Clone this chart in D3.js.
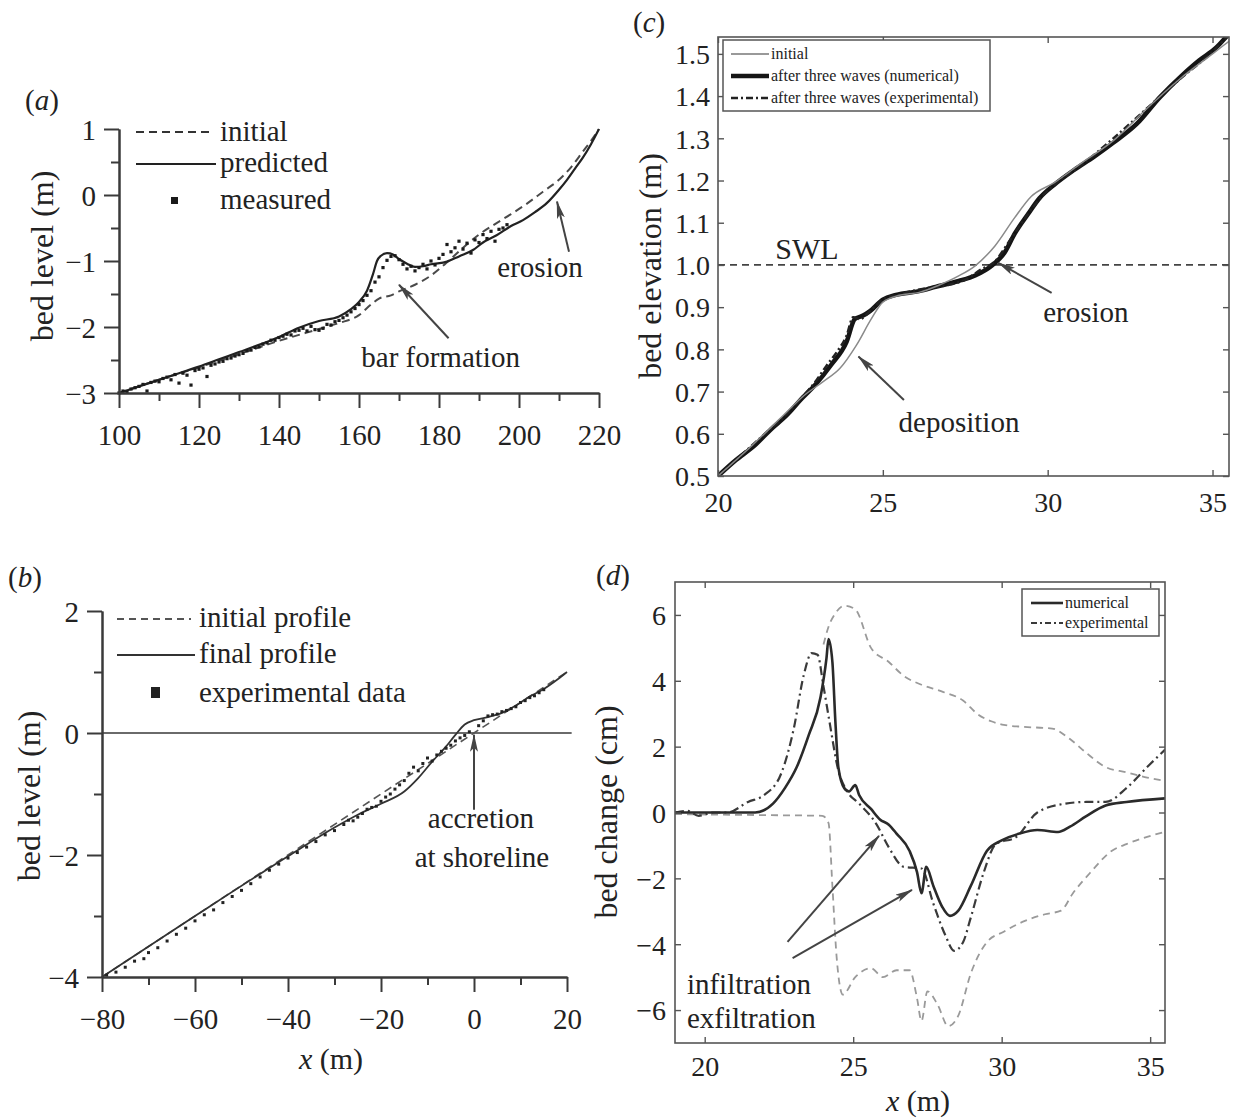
<!DOCTYPE html>
<html><head><meta charset="utf-8">
<script src="https://cdn.jsdelivr.net/npm/d3@7"></script>
<style>
body{margin:0;background:#fff}
text{font-family:"Liberation Serif","Times New Roman",serif;fill:#222}
</style></head><body>
<script>
// ---------------- Panel (a) data ----------------
const aXTicks = [100,120,140,160,180,200,220];
const aXMinor = [110,130,150,170,190,210];
const aYTicks = [1,0,-1,-2,-3];
const aYMinor = [0.5,-0.5,-1.5,-2.5];
const aInitial = [[100,-3.0],[110,-2.8],[120,-2.61],[130,-2.41],[140,-2.21],[150,-2.03],[155,-1.94],[160,-1.82],[163,-1.66],[165,-1.57],[168,-1.52],[170,-1.46],[174,-1.36],[178,-1.22],[182,-1.02],[186,-0.8],[190,-0.6],[194,-0.44],[198,-0.29],[202,-0.13],[206,0.05],[210,0.23],[213,0.42],[216,0.66],[218,0.82],[220,1.0]];
const aPredicted = [[100,-3.0],[105,-2.9],[110,-2.8],[115,-2.7],[120,-2.6],[125,-2.49],[130,-2.38],[135,-2.27],[140,-2.15],[145,-2.01],[150,-1.91],[155,-1.84],[158,-1.73],[160,-1.62],[162,-1.45],[163.5,-1.2],[164.5,-1.0],[165.5,-0.92],[167,-0.88],[168.5,-0.9],[170,-0.97],[172,-1.04],[174,-1.09],[176,-1.08],[178,-1.05],[182,-1.01],[185,-0.93],[188.6,-0.83],[191,-0.72],[194.4,-0.61],[198,-0.47],[201,-0.38],[204,-0.26],[207,-0.12],[210,0.08],[212,0.23],[214,0.4],[216,0.57],[218,0.77],[220,1.0]];
const aMeasured = [[100,-3.0],[101,-2.97],[102,-2.99],[103,-2.94],[104,-2.92],[105,-2.9],[106,-2.87],[107,-2.97],[108,-2.84],[109,-2.82],[110,-2.83],[111,-2.78],[112,-2.76],[113,-2.8],[114,-2.72],[115,-2.85],[116,-2.7],[117,-2.73],[118,-2.88],[119,-2.66],[120,-2.64],[121,-2.62],[122,-2.75],[123,-2.58],[124,-2.56],[125,-2.53],[126,-2.52],[127,-2.48],[128,-2.47],[129,-2.44],[130,-2.42],[131,-2.4],[132,-2.36],[133,-2.35],[134,-2.31],[135,-2.3],[136,-2.26],[137,-2.24],[138,-2.2],[139,-2.2],[140,-2.16],[141,-2.14],[142,-2.11],[143,-2.12],[144,-2.06],[145,-2.05],[146,-2.02],[147,-2.06],[148,-1.99],[149,-2.04],[150,-2.05],[151,-2.02],[152,-1.96],[153,-1.97],[154,-1.92],[155,-1.9],[156,-1.86],[157,-1.82],[158,-1.77],[159,-1.72],[160,-1.66],[161,-1.6],[162,-1.52],[163,-1.45],[164,-1.32],[165,-1.24],[166,-1.1],[167,-0.99],[168,-0.93],[169,-0.92],[170,-0.98],[171,-1.05],[172,-1.12],[173,-1.08],[174,-1.15],[175,-1.1],[176,-1.05],[177,-1.12],[178,-1.0],[179,-1.06],[180,-0.96],[181,-0.9],[182,-0.75],[183,-0.86],[184,-0.8],[185,-0.7],[186,-0.82],[187,-0.73],[188,-0.88],[189,-0.68],[190,-0.72],[191,-0.6],[192,-0.66],[193,-0.55],[194,-0.7],[195,-0.52],[196,-0.5],[197,-0.45]];

// ---------------- Panel (b) data ----------------
const bXTicks = [-80,-60,-40,-20,0,20];
const bXMinor = [-70,-50,-30,-10,10];
const bYTicks = [2,0,-2,-4];
const bYMinor = [1,-1,-3];
const bInitial = [[-80,-4],[-40,-2],[0,0],[20,1]];
const bFinal = [[-80,-4],[-60,-3],[-40,-2.02],[-30,-1.55],[-25,-1.34],[-20,-1.16],[-15,-0.96],[-12,-0.74],[-9,-0.47],[-6,-0.22],[-4,-0.03],[-2,0.14],[0,0.21],[3,0.26],[6,0.33],[9,0.45],[12,0.6],[15,0.72],[18,0.88],[20,1.0]];
const bSWL = [[-80,0],[21,0]];
const bExperimental = [[-79,-3.97],[-77,-3.92],[-75,-3.84],[-73,-3.74],[-71,-3.7],[-70,-3.6],[-68,-3.52],[-66,-3.41],[-64,-3.3],[-62,-3.2],[-60,-3.08],[-58,-2.98],[-56,-2.9],[-54,-2.78],[-52,-2.68],[-50,-2.58],[-48,-2.47],[-46,-2.36],[-44,-2.25],[-42,-2.15],[-40,-2.05],[-38,-1.96],[-36,-1.87],[-34,-1.78],[-32,-1.67],[-30,-1.6],[-28,-1.5],[-27,-1.43],[-26,-1.44],[-25,-1.38],[-24,-1.32],[-23,-1.25],[-22,-1.22],[-21,-1.2],[-20,-1.12],[-19,-1.05],[-18,-1.0],[-17,-0.92],[-16,-0.85],[-15,-0.78],[-14,-0.66],[-13,-0.56],[-12,-0.62],[-11,-0.5],[-10,-0.41],[-9,-0.46],[-8,-0.36],[-7,-0.3],[-6,-0.25],[-5,-0.2],[-4,-0.13],[-3,-0.08],[-2,-0.04],[-1,0.02],[1,0.12],[2,0.2],[3,0.28],[4,0.3],[5,0.31],[6,0.35],[7,0.37],[8,0.4],[9,0.43],[10,0.5],[11,0.53],[12,0.58],[13,0.61],[14,0.66],[15,0.71]];

// ---------------- Panel (c) data ----------------
const cXTicks = [20,25,30,35];
const cYTicks = [0.5,0.6,0.7,0.8,0.9,1.0,1.1,1.2,1.3,1.4,1.5];
const cSWL = 1.0;
const cInitial = [[20,0.5],[21,0.57],[22,0.645],[22.6,0.69],[23.2,0.724],[23.7,0.755],[24.2,0.81],[24.65,0.872],[25,0.912],[25.5,0.928],[26.1,0.935],[26.7,0.952],[27.3,0.974],[27.8,0.998],[28.4,1.045],[29,1.112],[29.5,1.162],[30.2,1.195],[31,1.24],[32,1.295],[33,1.37],[34,1.44],[35,1.5],[35.5,1.53]];
const cNumerical = [[20,0.5],[20.5,0.535],[21.15,0.575],[21.6,0.61],[22.1,0.645],[22.5,0.68],[22.95,0.716],[23.43,0.763],[23.9,0.818],[24.15,0.872],[24.4,0.88],[24.6,0.89],[25,0.918],[25.4,0.929],[26.1,0.938],[26.6,0.948],[27.3,0.962],[27.8,0.975],[28.3,0.998],[28.7,1.03],[29.0,1.074],[29.4,1.12],[29.75,1.158],[30.2,1.19],[30.8,1.225],[31.4,1.256],[32,1.29],[32.7,1.334],[33.4,1.397],[34.1,1.451],[34.6,1.485],[35.1,1.514],[35.5,1.548]];
const cExperimental = [[20,0.5],[20.5,0.535],[21,0.57],[21.5,0.605],[22,0.64],[22.5,0.682],[23,0.728],[23.3,0.762],[23.6,0.793],[23.9,0.832],[24.1,0.876],[24.3,0.872],[24.6,0.89],[25,0.918],[25.5,0.93],[26,0.94],[26.5,0.947],[27,0.953],[27.5,0.965],[28,0.99],[28.4,1.008],[28.7,1.04],[29,1.075],[29.4,1.12],[29.8,1.16],[30.2,1.19],[31,1.235],[32,1.3],[33,1.37],[34,1.44],[35,1.505],[35.5,1.545]];

// ---------------- Panel (d) data ----------------
const dXTicks = [20,25,30,35];
const dYTicks = [-6,-4,-2,0,2,4,6];
const dNumerical = [[19,0],[21.7,0],[22.3,0.27],[22.7,0.74],[23.1,1.38],[23.5,2.34],[23.9,3.5],[24.1,4.68],[24.17,5.27],[24.3,4.57],[24.4,2.77],[24.5,1.38],[24.7,0.74],[24.86,0.64],[25.07,0.83],[25.2,0.53],[25.6,0.11],[25.9,-0.21],[26.2,-0.37],[26.46,-0.64],[26.9,-1.17],[27.15,-1.81],[27.3,-2.45],[27.46,-1.65],[27.7,-2.23],[28,-2.87],[28.26,-3.14],[28.54,-2.98],[28.96,-2.23],[29.5,-1.17],[30,-0.85],[30.6,-0.64],[31.2,-0.53],[31.9,-0.59],[32.3,-0.43],[32.85,-0.11],[33.5,0.21],[34.2,0.32],[35.5,0.43]];
const dExperimental = [[19,0],[19.4,0.05],[19.8,-0.1],[20.3,0],[20.76,0],[21.46,0.32],[22,0.53],[22.57,1.17],[23,2.55],[23.33,4.15],[23.6,4.84],[23.8,4.79],[24,3.83],[24.2,2.77],[24.5,1.28],[24.8,0.64],[25.2,0.27],[25.76,-0.32],[26.2,-1.06],[26.7,-1.65],[27.3,-1.7],[27.7,-2.77],[28.1,-3.72],[28.4,-4.2],[28.7,-3.94],[28.96,-3.19],[29.4,-1.81],[29.8,-0.96],[30.5,-0.74],[31.2,0],[32.15,0.27],[32.85,0.32],[33.5,0.32],[34.2,0.74],[34.9,1.38],[35.5,1.91]];
const dUpper = [[24.0,5.1],[24.17,5.64],[24.4,6.05],[24.7,6.28],[25.07,6.17],[25.6,5.0],[26.2,4.57],[26.7,4.15],[27.3,3.88],[28,3.67],[28.7,3.4],[29.2,2.98],[29.65,2.77],[30.07,2.66],[30.76,2.6],[31.7,2.55],[32.3,2.23],[32.85,1.81],[33.5,1.38],[34.2,1.22],[34.9,1.06],[35.5,0.96]];
const dLower = [[19,-0.05],[22,-0.08],[23.96,-0.1],[24.17,-0.32],[24.3,-2.23],[24.44,-4.36],[24.65,-5.53],[25.07,-5.0],[25.6,-4.73],[26,-5.0],[26.46,-4.79],[26.9,-4.79],[27.15,-5.64],[27.3,-6.33],[27.5,-5.43],[27.85,-5.85],[28.2,-6.49],[28.54,-6.17],[28.96,-4.89],[29.5,-3.94],[30.07,-3.62],[30.76,-3.3],[31.46,-3.09],[32,-2.98],[32.4,-2.45],[33,-1.81],[33.7,-1.17],[34.2,-0.96],[34.9,-0.74],[35.5,-0.59]];

// ---------------- drawing ----------------
const W = 1238, H = 1119;
const svg = d3.select("body").append("svg").attr("width", W).attr("height", H);
const defs = svg.append("defs");
defs.append("marker").attr("id","arr").attr("viewBox","0 0 18 8")
  .attr("refX",17).attr("refY",4).attr("markerWidth",18).attr("markerHeight",8)
  .attr("markerUnits","userSpaceOnUse").attr("orient","auto")
  .append("path").attr("d","M0,0 L18,4 L0,8 L4,4 Z").attr("fill","#444");

const minus = d => (d < 0 ? "\u2212" + Math.abs(d) : String(d));
const mkLine = (x, y, curve) => d3.line().x(d => x(d[0])).y(d => y(d[1])).curve(curve || d3.curveMonotoneX);

function styleAxis(g, color, w) {
  g.select(".domain").attr("stroke", color).attr("stroke-width", w);
  g.selectAll(".tick line").attr("stroke", color).attr("stroke-width", w);
  g.selectAll("text").attr("fill", "#222").style("font-family", '"Liberation Serif",serif');
}
function arrow(g, x, y, p0, p1) {
  g.append("line").attr("x1", x(p0[0])).attr("y1", y(p0[1])).attr("x2", x(p1[0])).attr("y2", y(p1[1]))
    .attr("stroke", "#444").attr("stroke-width", 2).attr("marker-end", "url(#arr)");
}
function panelLabel(px, py, letter) {
  const t = svg.append("text").attr("x", px).attr("y", py).attr("font-size", 29).attr("dominant-baseline","central");
  t.append("tspan").text("(");
  t.append("tspan").attr("font-style","italic").text(letter);
  t.append("tspan").text(")");
}
function xLabel(px, py, size) {
  const t = svg.append("text").attr("x", px).attr("y", py).attr("font-size", size)
    .attr("text-anchor","middle").attr("dominant-baseline","central");
  t.append("tspan").attr("font-style","italic").text("x");
  t.append("tspan").text(" (m)");
}
function yLabel(px, py, txt, size) {
  svg.append("text").attr("transform", `translate(${px},${py}) rotate(-90)`)
    .attr("font-size", size).attr("text-anchor","middle").attr("dominant-baseline","central").text(txt);
}

// open-axes panel (a)/(b)
function openAxes(g, x, y, xT, xM, yT, yM, x0, y0) {
  const col = "#3a3a3a";
  const gx = g.append("g").attr("transform", `translate(0,${y0})`)
    .call(d3.axisBottom(x).tickValues(xT).tickSize(15).tickSizeOuter(0).tickFormat(minus));
  styleAxis(gx, col, 2);
  gx.selectAll("text").attr("y", 42).attr("dy", "0.35em").attr("font-size", 29);
  const gxm = g.append("g").attr("transform", `translate(0,${y0})`)
    .call(d3.axisBottom(x).tickValues(xM).tickSize(8).tickSizeOuter(0).tickFormat(""));
  styleAxis(gxm, col, 2);
  const gy = g.append("g").attr("transform", `translate(${x0},0)`)
    .call(d3.axisLeft(y).tickValues(yT).tickSize(15).tickSizeOuter(0).tickFormat(minus));
  styleAxis(gy, col, 2);
  gy.selectAll("text").attr("x", -23).attr("dy", "0.35em").attr("font-size", 29);
  const gym = g.append("g").attr("transform", `translate(${x0},0)`)
    .call(d3.axisLeft(y).tickValues(yM).tickSize(8).tickSizeOuter(0).tickFormat(""));
  styleAxis(gym, col, 2);
}

// ===== (a) =====
{
  const x = d3.scaleLinear().domain([100,220]).range([119,599]);
  const y = d3.scaleLinear().domain([-3,1]).range([393,129]);
  const g = svg.append("g");
  g.append("path").datum(aInitial).attr("d", mkLine(x,y)).attr("fill","none")
    .attr("stroke","#4a4a4a").attr("stroke-width",2).attr("stroke-dasharray","8,5");
  g.append("path").datum(aPredicted).attr("d", mkLine(x,y)).attr("fill","none")
    .attr("stroke","#222").attr("stroke-width",2.2);
  g.selectAll("rect.m").data(aMeasured).join("rect").attr("class","m")
    .attr("x", d => x(d[0]) - 1.6).attr("y", d => y(d[1]) - 1.6).attr("width",3.2).attr("height",3.2).attr("fill","#1a1a1a");
  openAxes(g, x, y, aXTicks, aXMinor, aYTicks, aYMinor, 119, 393);
  const lg = svg.append("g");
  lg.append("line").attr("x1",136).attr("x2",213).attr("y1",132).attr("y2",132).attr("stroke","#333").attr("stroke-width",2).attr("stroke-dasharray","8,5");
  lg.append("line").attr("x1",136).attr("x2",216).attr("y1",164).attr("y2",164).attr("stroke","#222").attr("stroke-width",2);
  lg.append("rect").attr("x",171).attr("y",197).attr("width",7).attr("height",7).attr("fill","#1a1a1a");
  [["initial",131],["predicted",162],["measured",199]].forEach(([t,yy]) =>
    lg.append("text").attr("x",220).attr("y",yy).attr("font-size",29).attr("dominant-baseline","central").text(t));
  g.append("text").attr("x", x(205.25)).attr("y", y(-1.09)).attr("font-size",29).attr("text-anchor","middle").attr("dominant-baseline","central").text("erosion");
  arrow(g, x, y, [212.5,-0.86], [209.5,-0.1]);
  g.append("text").attr("x", x(180.4)).attr("y", y(-2.45)).attr("font-size",29).attr("text-anchor","middle").attr("dominant-baseline","central").text("bar formation");
  arrow(g, x, y, [182.4,-2.17], [170,-1.36]);
  yLabel(42, 256, "bed level (m)", 32);
  panelLabel(25, 100, "a");
}

// ===== (b) =====
{
  const x = d3.scaleLinear().domain([-80,20]).range([102,567]);
  const y = d3.scaleLinear().domain([-4,2]).range([977,611]);
  const g = svg.append("g");
  g.append("path").datum(bSWL).attr("d", mkLine(x,y,d3.curveLinear)).attr("fill","none")
    .attr("stroke","#6a6a6a").attr("stroke-width",2.2);
  g.append("path").datum(bInitial).attr("d", mkLine(x,y,d3.curveLinear)).attr("fill","none")
    .attr("stroke","#555").attr("stroke-width",1.6).attr("stroke-dasharray","8,5");
  g.append("path").datum(bFinal).attr("d", mkLine(x,y)).attr("fill","none")
    .attr("stroke","#333").attr("stroke-width",1.8);
  g.selectAll("rect.m").data(bExperimental).join("rect").attr("class","m")
    .attr("x", d => x(d[0]) - 1.5).attr("y", d => y(d[1]) - 1.5).attr("width",3).attr("height",3).attr("fill","#222");
  openAxes(g, x, y, bXTicks, bXMinor, bYTicks, bYMinor, 102, 977);
  const lg = svg.append("g");
  lg.append("line").attr("x1",117).attr("x2",191).attr("y1",619).attr("y2",619).attr("stroke","#555").attr("stroke-width",1.8).attr("stroke-dasharray","7,5");
  lg.append("line").attr("x1",117).attr("x2",195).attr("y1",655).attr("y2",655).attr("stroke","#333").attr("stroke-width",1.8);
  lg.append("rect").attr("x",151).attr("y",687).attr("width",9).attr("height",11).attr("fill","#222");
  [["initial profile",617],["final profile",653],["experimental data",692]].forEach(([t,yy]) =>
    lg.append("text").attr("x",199).attr("y",yy).attr("font-size",29).attr("dominant-baseline","central").text(t));
  g.append("text").attr("x", x(1.5)).attr("y", y(-1.39)).attr("font-size",29).attr("text-anchor","middle").attr("dominant-baseline","central").text("accretion");
  g.append("text").attr("x", x(1.7)).attr("y", y(-2.04)).attr("font-size",29).attr("text-anchor","middle").attr("dominant-baseline","central").text("at shoreline");
  arrow(g, x, y, [0,-1.26], [0,-0.03]);
  yLabel(29, 796, "bed level (m)", 32);
  xLabel(331, 1058, 30);
  panelLabel(8, 577, "b");
}

function boxAxes(g, x, y, xT, yT, fmt, x0, x1, y0, y1, xlabY, ylabX) {
  const col = "#555";
  g.append("rect").attr("x", x0).attr("y", y1).attr("width", x1 - x0).attr("height", y0 - y1)
    .attr("fill","none").attr("stroke", col).attr("stroke-width", 1.6);
  const gb = g.append("g").attr("transform", `translate(0,${y0})`)
    .call(d3.axisBottom(x).tickValues(xT).tickSizeInner(-6).tickSizeOuter(0).tickFormat(fmt.x));
  styleAxis(gb, col, 1.4); gb.select(".domain").remove();
  gb.selectAll("text").attr("y", xlabY).attr("dy","0.35em").attr("font-size",28);
  const gt = g.append("g").attr("transform", `translate(0,${y1})`)
    .call(d3.axisTop(x).tickValues(xT).tickSizeInner(-6).tickSizeOuter(0).tickFormat(""));
  styleAxis(gt, col, 1.4); gt.select(".domain").remove();
  const gl = g.append("g").attr("transform", `translate(${x0},0)`)
    .call(d3.axisLeft(y).tickValues(yT).tickSizeInner(-6).tickSizeOuter(0).tickFormat(fmt.y));
  styleAxis(gl, col, 1.4); gl.select(".domain").remove();
  gl.selectAll("text").attr("x", ylabX).attr("dy","0.35em").attr("font-size",28);
  const gr = g.append("g").attr("transform", `translate(${x1},0)`)
    .call(d3.axisRight(y).tickValues(yT).tickSizeInner(-6).tickSizeOuter(0).tickFormat(""));
  styleAxis(gr, col, 1.4); gr.select(".domain").remove();
}

// ===== (c) =====
{
  const x = d3.scaleLinear().domain([20,35.5]).range([718,1229]);
  const y = d3.scaleLinear().domain([0.5,1.54]).range([476,37]);
  const g = svg.append("g");
  defs.append("clipPath").attr("id","clipC").append("rect").attr("x",718).attr("y",37).attr("width",511).attr("height",439);
  const gd = g.append("g").attr("clip-path","url(#clipC)");
  gd.append("line").attr("x1", x(20)).attr("x2", x(35.5)).attr("y1", y(cSWL)).attr("y2", y(cSWL))
    .attr("stroke","#444").attr("stroke-width",1.8).attr("stroke-dasharray","7,5");
  gd.append("path").datum(cNumerical).attr("d", mkLine(x,y)).attr("fill","none")
    .attr("stroke","#151515").attr("stroke-width",4.5);
  gd.append("path").datum(cExperimental).attr("d", mkLine(x,y)).attr("fill","none")
    .attr("stroke","#222").attr("stroke-width",2.6).attr("stroke-dasharray","7,3,2,3");
  gd.append("path").datum(cInitial).attr("d", mkLine(x,y)).attr("fill","none")
    .attr("stroke","#8a8a8a").attr("stroke-width",1.5);
  boxAxes(g, x, y, cXTicks, cYTicks, {x: d => d, y: d3.format(".1f")}, 718, 1229, 476, 37, 26, -8);
  const lg = svg.append("g");
  lg.append("rect").attr("x",723).attr("y",40).attr("width",267).attr("height",71).attr("fill","#fff").attr("stroke","#555").attr("stroke-width",1.5);
  lg.append("line").attr("x1",731).attr("x2",769).attr("y1",54).attr("y2",54).attr("stroke","#777").attr("stroke-width",1.5);
  lg.append("line").attr("x1",731).attr("x2",769).attr("y1",76).attr("y2",76).attr("stroke","#151515").attr("stroke-width",4.5);
  lg.append("line").attr("x1",731).attr("x2",769).attr("y1",98).attr("y2",98).attr("stroke","#222").attr("stroke-width",2.6).attr("stroke-dasharray","7,3,2,3");
  [["initial",53],["after three waves (numerical)",75],["after three waves (experimental)",97]].forEach(([t,yy]) =>
    lg.append("text").attr("x",771).attr("y",yy).attr("font-size",16).attr("dominant-baseline","central").text(t));
  g.append("text").attr("x", x(22.7)).attr("y", y(1.04)).attr("font-size",30).attr("text-anchor","middle").attr("dominant-baseline","central").text("SWL");
  g.append("text").attr("x", x(31.16)).attr("y", y(0.889)).attr("font-size",29).attr("text-anchor","middle").attr("dominant-baseline","central").text("erosion");
  arrow(g, x, y, [30.12,0.934], [28.5,1.005]);
  g.append("text").attr("x", x(27.31)).attr("y", y(0.629)).attr("font-size",29).attr("text-anchor","middle").attr("dominant-baseline","central").text("deposition");
  arrow(g, x, y, [25.64,0.68], [24.26,0.783]);
  yLabel(650, 266, "bed elevation (m)", 32);
  panelLabel(633, 22, "c");
}

// ===== (d) =====
{
  const x = d3.scaleLinear().domain([19,35.5]).range([675,1165]);
  const y = d3.scaleLinear().domain([-7,7]).range([1043,582]);
  const g = svg.append("g");
  defs.append("clipPath").attr("id","clipD").append("rect").attr("x",675).attr("y",582).attr("width",490).attr("height",461);
  const gd = g.append("g").attr("clip-path","url(#clipD)");
  [dUpper, dLower].forEach(s => gd.append("path").datum(s).attr("d", mkLine(x,y)).attr("fill","none")
    .attr("stroke","#9a9a9a").attr("stroke-width",1.8).attr("stroke-dasharray","7,5"));
  gd.append("path").datum(dExperimental).attr("d", mkLine(x,y)).attr("fill","none")
    .attr("stroke","#3a3a3a").attr("stroke-width",2.2).attr("stroke-dasharray","9,4,2,4");
  gd.append("path").datum(dNumerical).attr("d", mkLine(x,y)).attr("fill","none")
    .attr("stroke","#2a2a2a").attr("stroke-width",2.6);
  boxAxes(g, x, y, dXTicks, dYTicks, {x: d => d, y: minus}, 675, 1165, 1043, 582, 23, -9);
  const lg = svg.append("g");
  lg.append("rect").attr("x",1022).attr("y",589).attr("width",137).attr("height",47).attr("fill","#fff").attr("stroke","#555").attr("stroke-width",1.5);
  lg.append("line").attr("x1",1031).attr("x2",1063).attr("y1",603).attr("y2",603).attr("stroke","#2a2a2a").attr("stroke-width",2.6);
  lg.append("line").attr("x1",1031).attr("x2",1063).attr("y1",623).attr("y2",623).attr("stroke","#3a3a3a").attr("stroke-width",2.2).attr("stroke-dasharray","6,3,2,3");
  [["numerical",602],["experimental",622]].forEach(([t,yy]) =>
    lg.append("text").attr("x",1065).attr("y",yy).attr("font-size",16).attr("dominant-baseline","central").text(t));
  g.append("text").attr("x", x(19.4)).attr("y", y(-5.21)).attr("font-size",29).attr("dominant-baseline","central").text("infiltration");
  g.append("text").attr("x", x(19.4)).attr("y", y(-6.24)).attr("font-size",29).attr("dominant-baseline","central").text("exfiltration");
  arrow(g, x, y, [22.79,-3.93], [25.87,-0.71]);
  arrow(g, x, y, [22.96,-4.42], [26.98,-2.35]);
  yLabel(606, 812, "bed change (cm)", 32);
  xLabel(918, 1100, 30);
  panelLabel(596, 575, "d");
}
</script>
</body></html>
